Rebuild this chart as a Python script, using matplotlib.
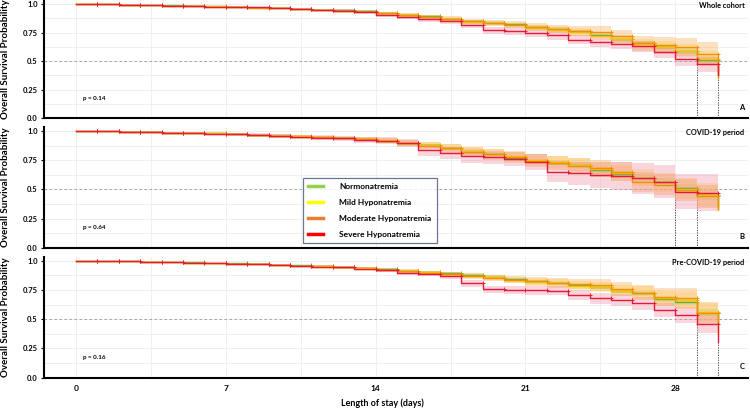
import matplotlib
matplotlib.use("Agg")
import matplotlib.pyplot as plt
from matplotlib.lines import Line2D
import numpy as np

plt.rcParams['font.family'] = ['Lato', 'DejaVu Sans']
plt.rcParams['font.weight'] = 'bold'

days = list(range(0, 31))
groups = ["Normonatremia", "Mild Hyponatremia", "Moderate Hyponatremia", "Severe Hyponatremia"]
line_colors = ["#6aa83a", "#f2c400", "#f39000", "#e8183c"]
band_colors = ["#9fcf7a", "#ffd84d", "#f7a94f", "#f08aa0"]
legend_colors = ["#92d050", "#ffff00", "#ed7d31", "#ff0000"]

panel_titles = ["Whole cohort", "COVID-19 period", "Pre-COVID-19 period"]
panel_letters = ["A", "B", "C"]
p_values = ["p = 0.14", "p = 0.64", "p = 0.16"]
medians = [[29, 30], [28, 29], [29, 30]]

# ---- Panel A: Whole cohort ----
A_green = [1.000, 0.997, 0.994, 0.990, 0.987, 0.984, 0.980, 0.976, 0.971, 0.965, 0.959, 0.951, 0.944, 0.935,
           0.921, 0.907, 0.892, 0.872, 0.848, 0.837, 0.822, 0.800, 0.781, 0.761, 0.725, 0.693, 0.657, 0.625, 0.587, 0.512, 0.375]
A_yellow = [1.000, 0.997, 0.994, 0.990, 0.986, 0.983, 0.979, 0.975, 0.969, 0.963, 0.956, 0.949, 0.941, 0.932,
            0.918, 0.904, 0.889, 0.868, 0.846, 0.833, 0.815, 0.792, 0.775, 0.755, 0.722, 0.690, 0.652, 0.625, 0.590, 0.520, 0.405]
A_orange = [1.000, 0.997, 0.994, 0.990, 0.986, 0.982, 0.978, 0.974, 0.968, 0.962, 0.955, 0.948, 0.940, 0.931,
            0.918, 0.903, 0.888, 0.870, 0.848, 0.832, 0.818, 0.800, 0.782, 0.762, 0.758, 0.715, 0.657, 0.636, 0.621, 0.564, 0.355]
A_red = [1.000, 0.997, 0.993, 0.989, 0.986, 0.982, 0.978, 0.975, 0.970, 0.964, 0.957, 0.948, 0.940, 0.930,
         0.905, 0.888, 0.865, 0.848, 0.820, 0.768, 0.765, 0.750, 0.724, 0.688, 0.665, 0.651, 0.628, 0.578, 0.515, 0.472, 0.380]
A_green_ci = [0.0, 0.001, 0.001, 0.002, 0.002, 0.002, 0.003, 0.003, 0.003, 0.004, 0.004, 0.005, 0.005, 0.006,
              0.007, 0.008, 0.008, 0.009, 0.010, 0.011, 0.012, 0.013, 0.014, 0.015, 0.017, 0.018, 0.020, 0.022, 0.025, 0.030, 0.030]
A_yellow_ci = [0.0, 0.002, 0.002, 0.003, 0.003, 0.004, 0.004, 0.005, 0.006, 0.007, 0.008, 0.009, 0.010, 0.011,
               0.012, 0.014, 0.015, 0.016, 0.018, 0.019, 0.020, 0.024, 0.028, 0.032, 0.036, 0.040, 0.045, 0.050, 0.058, 0.068, 0.068]
A_orange_ci = [0.0, 0.002, 0.003, 0.003, 0.004, 0.005, 0.005, 0.006, 0.007, 0.008, 0.009, 0.010, 0.012, 0.013,
               0.015, 0.017, 0.019, 0.021, 0.024, 0.027, 0.030, 0.034, 0.038, 0.044, 0.050, 0.058, 0.065, 0.072, 0.080, 0.100, 0.100]
A_red_ci = [0.0, 0.002, 0.003, 0.003, 0.004, 0.005, 0.005, 0.006, 0.007, 0.008, 0.009, 0.010, 0.012, 0.013,
            0.015, 0.017, 0.020, 0.023, 0.027, 0.031, 0.035, 0.037, 0.039, 0.041, 0.043, 0.045, 0.048, 0.052, 0.058, 0.065, 0.065]

# ---- Panel B: COVID-19 period ----
B_green = [1.000, 0.997, 0.994, 0.990, 0.986, 0.982, 0.978, 0.973, 0.967, 0.960, 0.953, 0.945, 0.937, 0.928,
           0.916, 0.894, 0.877, 0.851, 0.819, 0.802, 0.765, 0.740, 0.728, 0.708, 0.662, 0.630, 0.594, 0.565, 0.508, 0.451, 0.345]
B_yellow = [1.000, 0.997, 0.994, 0.990, 0.986, 0.982, 0.978, 0.973, 0.967, 0.960, 0.953, 0.945, 0.937, 0.928,
            0.918, 0.897, 0.880, 0.855, 0.825, 0.805, 0.782, 0.752, 0.732, 0.712, 0.672, 0.640, 0.600, 0.560, 0.505, 0.450, 0.320]
B_orange = [1.000, 0.997, 0.994, 0.990, 0.986, 0.982, 0.977, 0.972, 0.966, 0.959, 0.952, 0.944, 0.936, 0.927,
            0.915, 0.895, 0.875, 0.850, 0.820, 0.800, 0.775, 0.745, 0.725, 0.700, 0.680, 0.650, 0.565, 0.537, 0.494, 0.440, 0.335]
B_red = [1.000, 0.997, 0.993, 0.989, 0.985, 0.981, 0.977, 0.972, 0.966, 0.959, 0.951, 0.943, 0.935, 0.926,
         0.916, 0.899, 0.835, 0.810, 0.785, 0.774, 0.757, 0.731, 0.651, 0.637, 0.622, 0.614, 0.594, 0.565, 0.479, 0.471, 0.466]
B_green_ci = [0.0, 0.001, 0.002, 0.002, 0.003, 0.003, 0.004, 0.004, 0.005, 0.005, 0.006, 0.007, 0.008, 0.009,
              0.010, 0.011, 0.012, 0.014, 0.016, 0.018, 0.020, 0.022, 0.024, 0.026, 0.028, 0.030, 0.033, 0.036, 0.040, 0.045, 0.045]
B_yellow_ci = [0.0, 0.003, 0.004, 0.005, 0.006, 0.007, 0.008, 0.009, 0.010, 0.011, 0.012, 0.014, 0.016, 0.018,
               0.020, 0.024, 0.028, 0.031, 0.034, 0.037, 0.040, 0.046, 0.052, 0.058, 0.064, 0.070, 0.076, 0.082, 0.090, 0.100, 0.100]
B_orange_ci = [0.0, 0.003, 0.004, 0.005, 0.006, 0.007, 0.008, 0.009, 0.010, 0.011, 0.012, 0.014, 0.016, 0.018,
               0.020, 0.025, 0.030, 0.035, 0.040, 0.045, 0.050, 0.056, 0.062, 0.068, 0.074, 0.080, 0.085, 0.090, 0.095, 0.100, 0.100]
B_red_ci = [0.0, 0.004, 0.005, 0.006, 0.007, 0.008, 0.010, 0.012, 0.014, 0.016, 0.018, 0.020, 0.023, 0.026,
            0.030, 0.035, 0.050, 0.053, 0.056, 0.058, 0.060, 0.070, 0.090, 0.100, 0.110, 0.120, 0.130, 0.140, 0.150, 0.160, 0.160]

# ---- Panel C: Pre-COVID-19 period ----
C_green = [1.000, 0.997, 0.994, 0.991, 0.988, 0.985, 0.981, 0.977, 0.972, 0.966, 0.960, 0.953, 0.945, 0.936,
           0.926, 0.915, 0.903, 0.892, 0.878, 0.863, 0.841, 0.826, 0.812, 0.790, 0.772, 0.742, 0.722, 0.672, 0.650, 0.556, 0.465]
C_yellow = [1.000, 0.997, 0.994, 0.991, 0.988, 0.984, 0.980, 0.976, 0.971, 0.965, 0.958, 0.951, 0.943, 0.934,
            0.924, 0.912, 0.900, 0.888, 0.872, 0.857, 0.836, 0.822, 0.808, 0.788, 0.772, 0.745, 0.725, 0.680, 0.660, 0.560, 0.375]
C_orange = [1.000, 0.997, 0.994, 0.990, 0.987, 0.983, 0.979, 0.975, 0.970, 0.964, 0.957, 0.950, 0.942, 0.932,
            0.922, 0.910, 0.897, 0.885, 0.868, 0.853, 0.838, 0.824, 0.810, 0.800, 0.790, 0.755, 0.728, 0.692, 0.678, 0.550, 0.470]
C_red = [1.000, 0.997, 0.994, 0.990, 0.987, 0.983, 0.979, 0.975, 0.970, 0.964, 0.957, 0.950, 0.942, 0.932,
         0.920, 0.897, 0.886, 0.869, 0.807, 0.755, 0.749, 0.746, 0.744, 0.707, 0.680, 0.664, 0.635, 0.579, 0.536, 0.459, 0.308]
C_green_ci = [0.0, 0.001, 0.001, 0.002, 0.002, 0.002, 0.003, 0.003, 0.003, 0.004, 0.004, 0.005, 0.005, 0.006,
              0.007, 0.008, 0.008, 0.009, 0.010, 0.011, 0.012, 0.013, 0.014, 0.015, 0.017, 0.018, 0.020, 0.022, 0.025, 0.030, 0.030]
C_yellow_ci = [0.0, 0.002, 0.002, 0.003, 0.003, 0.004, 0.004, 0.005, 0.006, 0.007, 0.008, 0.009, 0.010, 0.011,
               0.012, 0.014, 0.015, 0.017, 0.019, 0.021, 0.024, 0.028, 0.032, 0.036, 0.042, 0.048, 0.055, 0.062, 0.070, 0.080, 0.080]
C_orange_ci = [0.0, 0.002, 0.003, 0.003, 0.004, 0.005, 0.005, 0.006, 0.007, 0.008, 0.009, 0.010, 0.012, 0.013,
               0.015, 0.017, 0.019, 0.022, 0.025, 0.028, 0.032, 0.036, 0.040, 0.046, 0.052, 0.060, 0.068, 0.076, 0.085, 0.095, 0.095]
C_red_ci = [0.0, 0.002, 0.003, 0.003, 0.004, 0.005, 0.005, 0.006, 0.007, 0.008, 0.009, 0.010, 0.012, 0.013,
            0.015, 0.018, 0.021, 0.024, 0.028, 0.032, 0.035, 0.038, 0.040, 0.043, 0.046, 0.050, 0.055, 0.060, 0.066, 0.075, 0.075]

panels = [
    ([A_green, A_yellow, A_orange, A_red], [A_green_ci, A_yellow_ci, A_orange_ci, A_red_ci]),
    ([B_green, B_yellow, B_orange, B_red], [B_green_ci, B_yellow_ci, B_orange_ci, B_red_ci]),
    ([C_green, C_yellow, C_orange, C_red], [C_green_ci, C_yellow_ci, C_orange_ci, C_red_ci]),
]

W, H = 750, 408
fig = plt.figure(figsize=(W / 100, H / 100), dpi=100)

# pixel layout: (bottom_px, one_px) for y=0 and y=1.0
layout = [(118.0, 4.0), (247.7, 130.9), (377.7, 260.7)]
x_left_px, x_right_px = 44, 748
ylim_top = 1.03
xlim = (-1.5, 31.4)

axes = []
for i, (b_px, one_px) in enumerate(layout):
    unit = b_px - one_px
    h_px = unit * ylim_top
    ax = fig.add_axes([x_left_px / W, 1 - b_px / H, (x_right_px - x_left_px) / W, h_px / H])
    axes.append(ax)
    survs, cis = panels[i]
    d = np.array(days)
    for k in range(4):
        s = np.array(survs[k])
        c = np.array(cis[k])
        ax.fill_between(d[:-1].tolist() + [d[-1]], np.r_[s[:-1] - c[:-1], s[-2] - c[-2]],
                        np.r_[s[:-1] + c[:-1], s[-2] + c[-2]], step='post',
                        color=band_colors[k], alpha=0.35, lw=0, zorder=2)
    for k in range(4):
        s = np.array(survs[k])
        ax.step(d[:-1], s[:-1], where='post', color=line_colors[k], lw=1.0, zorder=3 + k)
        ax.plot([d[-2], d[-1]], [s[-2], s[-2]], color=line_colors[k], lw=1.0, zorder=3 + k)
        ax.plot([d[-1], d[-1]], [s[-2], s[-1]], color=line_colors[k], lw=1.0, zorder=3 + k)
        ax.plot(d[1:], s[:-1], ls='none', marker='+', ms=3, mew=0.7, color=line_colors[k], zorder=3 + k)

    ax.axhline(0.5, color='#999999', lw=0.6, ls=(0, (3, 3)), zorder=1)
    for m in medians[i]:
        ax.plot([m, m], [0, 0.5], color='#333333', lw=0.6, ls=(0, (1.5, 1.5)), zorder=1)

    ax.set_xlim(*xlim)
    ax.set_ylim(0, ylim_top)
    ax.set_xticks([0, 7, 14, 21, 28])
    ax.set_xticks(np.arange(0, 31.5, 3.5), minor=True)
    ax.set_yticks([0.0, 0.25, 0.5, 0.75, 1.0])
    ax.set_yticklabels(["0.0", "0.25", "0.5", "0.75", "1.0"])
    ax.set_yticks(np.arange(0, 1.01, 0.125), minor=True)
    ax.grid(True, which='both', color='#ececec', lw=0.6, zorder=0)
    ax.set_axisbelow(True)
    for sp in ['top', 'right']:
        ax.spines[sp].set_visible(False)
    for sp in ['left', 'bottom']:
        ax.spines[sp].set_linewidth(1.5)
        ax.spines[sp].set_color('black')
    ax.tick_params(axis='y', which='major', labelsize=5.5, length=2.5, width=0.8, pad=2)
    ax.tick_params(axis='y', which='minor', length=0)
    ax.tick_params(axis='x', which='minor', length=0)
    if i < 2:
        ax.tick_params(axis='x', which='major', labelbottom=False, length=0)
    else:
        ax.tick_params(axis='x', which='major', labelsize=6, length=0, pad=5)
    ax.set_ylabel("Overall Survival Probability", fontsize=7, fontweight='bold', labelpad=9)
    ax.text(0.995, 0.985, panel_titles[i], transform=ax.transAxes, ha='right', va='top',
            fontsize=5.3, fontweight='bold')
    ax.text(0.995, 0.06, panel_letters[i], transform=ax.transAxes, ha='right', va='bottom',
            fontsize=5.5, fontweight='bold')
    ax.text(0.3, 0.17, p_values[i], fontsize=4.5, fontweight='bold', ha='left', va='center')

axes[2].set_xlabel("Length of stay (days)", fontsize=6.5, fontweight='bold', labelpad=4)
axes[2].xaxis.set_label_coords((382 - x_left_px) / (x_right_px - x_left_px), -0.17)

handles = [Line2D([0], [0], color=c, lw=2.5) for c in legend_colors]
leg = axes[1].legend(handles, groups, loc='lower left', bbox_to_anchor=(0.368, 0.039, 0.1903, 0.58),
                     mode='expand', borderaxespad=0, frameon=True, fancybox=False, fontsize=6,
                     labelspacing=1.05, handlelength=1.7, handletextpad=2.0, borderpad=0.65)
leg.get_frame().set_edgecolor('#4a5470')
leg.get_frame().set_linewidth(0.9)
leg.set_zorder(20)
for t in leg.get_texts():
    t.set_fontweight('bold')

fig.savefig("out.png", dpi=100)
